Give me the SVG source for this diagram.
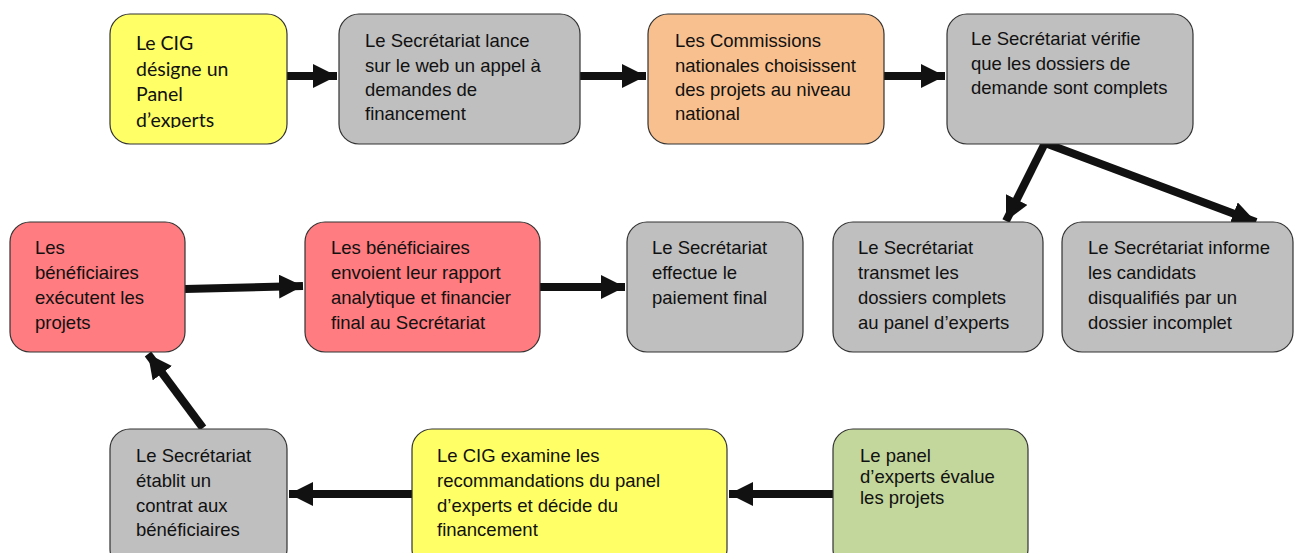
<svg xmlns="http://www.w3.org/2000/svg" width="1295" height="553" viewBox="0 0 1295 553">
<style>
.box{stroke:#333;stroke-width:1.2}
.gray{fill:#BFBFBF}.yellow{fill:#FFFF66}.orange{fill:#F8C08E}.red{fill:#FF7C80}.green{fill:#C3D69B}
text{font-family:"Liberation Sans",Arial,sans-serif;font-size:18.5px;fill:#111}
text.cal{font-family:Lato,"Liberation Sans",sans-serif;font-size:19.5px}
.conn{stroke:#111;stroke-width:8;fill:none}
</style>
<defs>
<marker id="ah" markerUnits="userSpaceOnUse" markerWidth="26" markerHeight="26" refX="24" refY="12" orient="auto">
<path d="M0,0 L24,12 L0,24 Z" fill="#111"/>
</marker>
<clipPath id="c1"><rect x="110" y="14" width="177" height="114"/></clipPath>
</defs>
<g id="connectors">
<line class="conn" x1="287" y1="76" x2="337" y2="76" marker-end="url(#ah)"/>
<line class="conn" x1="580" y1="76" x2="646" y2="76" marker-end="url(#ah)"/>
<line class="conn" x1="884" y1="76" x2="945" y2="76" marker-end="url(#ah)"/>
<line class="conn" x1="1045" y1="143" x2="1006" y2="221" marker-end="url(#ah)"/>
<line class="conn" x1="1045" y1="143" x2="1256" y2="222" marker-end="url(#ah)"/>
<line class="conn" x1="185" y1="289" x2="303" y2="286" marker-end="url(#ah)"/>
<line class="conn" x1="540" y1="287" x2="625" y2="287" marker-end="url(#ah)"/>
<line class="conn" x1="833" y1="494" x2="729" y2="494" marker-end="url(#ah)"/>
<line class="conn" x1="412" y1="494" x2="289" y2="494" marker-end="url(#ah)"/>
<line class="conn" x1="203" y1="428" x2="148" y2="354" marker-end="url(#ah)"/>
</g>
<g id="n1">
<rect class="box yellow" x="110" y="14" width="177" height="130" rx="20"/>
<g clip-path="url(#c1)">
<text class="cal" x="136" y="50">Le CIG</text>
<text class="cal" x="136" y="76">désigne un</text>
<text class="cal" x="136" y="101">Panel</text>
<text class="cal" x="136" y="127">d’experts</text>
</g>
</g>
<g id="n2">
<rect class="box gray" x="339" y="14" width="241" height="130" rx="20"/>
<text x="365" y="47">Le Secrétariat lance</text>
<text x="365" y="72">sur le web un appel à</text>
<text x="365" y="96">demandes de</text>
<text x="365" y="120">financement</text>
</g>
<g id="n3">
<rect class="box orange" x="648" y="14" width="236" height="130" rx="20"/>
<text x="675" y="47">Les Commissions</text>
<text x="675" y="72">nationales choisissent</text>
<text x="675" y="96">des projets au niveau</text>
<text x="675" y="120">national</text>
</g>
<g id="n4">
<rect class="box gray" x="947" y="14" width="246" height="130" rx="20"/>
<text x="971" y="45">Le Secrétariat vérifie</text>
<text x="971" y="70">que les dossiers de</text>
<text x="971" y="94">demande sont complets</text>
</g>
<g id="n5">
<rect class="box gray" x="833" y="222" width="210" height="130" rx="20"/>
<text x="858" y="254">Le Secrétariat</text>
<text x="858" y="279">transmet les</text>
<text x="858" y="304">dossiers complets</text>
<text x="858" y="329">au panel d’experts</text>
</g>
<g id="n6">
<rect class="box gray" x="1062" y="222" width="231" height="130" rx="20"/>
<text x="1088" y="254">Le Secrétariat informe</text>
<text x="1088" y="279">les candidats</text>
<text x="1088" y="304">disqualifiés par un</text>
<text x="1088" y="329">dossier incomplet</text>
</g>
<g id="n7">
<rect class="box red" x="10" y="222" width="175" height="130" rx="20"/>
<text x="35" y="254">Les</text>
<text x="35" y="279">bénéficiaires</text>
<text x="35" y="304">exécutent les</text>
<text x="35" y="329">projets</text>
</g>
<g id="n8">
<rect class="box red" x="305" y="222" width="235" height="130" rx="20"/>
<text x="331" y="254">Les bénéficiaires</text>
<text x="331" y="279">envoient leur rapport</text>
<text x="331" y="304">analytique et financier</text>
<text x="331" y="329">final au Secrétariat</text>
</g>
<g id="n9">
<rect class="box gray" x="627" y="222" width="176" height="130" rx="20"/>
<text x="652" y="254">Le Secrétariat</text>
<text x="652" y="279">effectue le</text>
<text x="652" y="304">paiement final</text>
</g>
<g id="n10">
<rect class="box gray" x="110" y="429" width="177" height="140" rx="20"/>
<text x="136" y="462">Le Secrétariat</text>
<text x="136" y="487">établit un</text>
<text x="136" y="512">contrat aux</text>
<text x="136" y="536">bénéficiaires</text>
</g>
<g id="n11">
<rect class="box yellow" x="412" y="429" width="315" height="140" rx="20"/>
<text x="437" y="462">Le CIG examine les</text>
<text x="437" y="487">recommandations du panel</text>
<text x="437" y="512">d’experts et décide du</text>
<text x="437" y="536">financement</text>
</g>
<g id="n12">
<rect class="box green" x="833" y="429" width="195" height="140" rx="20"/>
<text x="860" y="462">Le panel</text>
<text x="860" y="483">d’experts évalue</text>
<text x="860" y="504">les projets</text>
</g>
</svg>
